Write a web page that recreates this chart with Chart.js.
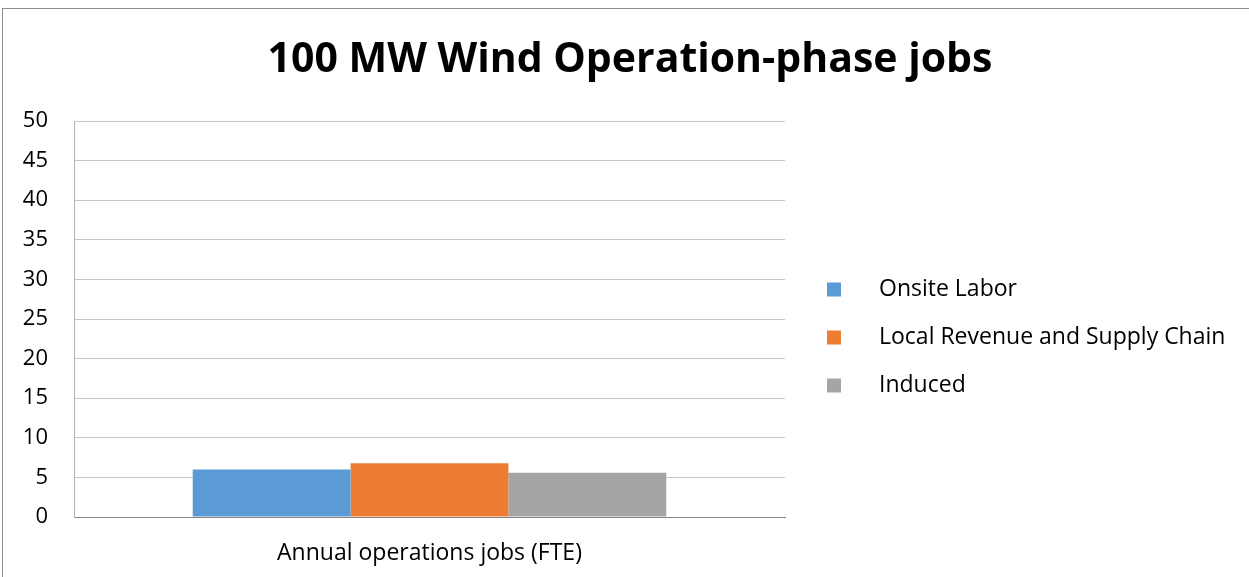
<!DOCTYPE html>
<html>
<head>
<meta charset="utf-8">
<script src="https://cdn.jsdelivr.net/npm/chart.js@4.4.1/dist/chart.umd.min.js"></script>
<style>
  html, body { margin: 0; padding: 0; background: #fff; }
  #caja { position: relative; width: 1249px; height: 577px; }
</style>
</head>
<body>
<div id="caja"><canvas id="graficoEmpleos" width="1249" height="577"></canvas></div>
<script>
/* DATOS */
const titulo = "100 MW Wind Operation-phase jobs";
const categorias = ["Annual operations jobs (FTE)"];
const series = ["Onsite Labor", "Local Revenue and Supply Chain", "Induced"];
const valoresOnsite = [6.0];
const valoresLocal = [6.8];
const valoresInduced = [5.6];
const colores = ["#5b9bd5", "#ed7d31", "#a5a5a5"];

const FUENTE = "'Open Sans', sans-serif";

/* Marco gris y título centrado sobre todo el lienzo */
const marco = {
  id: "marco",
  beforeDraw(chart) {
    const ctx = chart.ctx;
    ctx.save();
    ctx.strokeStyle = "#8c8c8c";
    ctx.lineWidth = 1;
    ctx.strokeRect(2.5, 8.5, 1400, 700);
    ctx.fillStyle = "#000";
    ctx.font = "bold 41px " + FUENTE;
    ctx.textAlign = "center";
    ctx.textBaseline = "alphabetic";
    ctx.fillText(titulo, 630, 72);
    ctx.restore();
  }
};

/* Leyenda a la derecha, dibujada a mano */
const leyendaDerecha = {
  id: "leyendaDerecha",
  afterDraw(chart) {
    const ctx = chart.ctx;
    ctx.save();
    ctx.font = "23px " + FUENTE;
    ctx.textBaseline = "middle";
    chart.data.datasets.forEach((ds, i) => {
      const y = 289.5 + i * 48;
      ctx.fillStyle = ds.backgroundColor;
      ctx.fillRect(827, y - 7, 14, 14);
      ctx.fillStyle = "#000";
      ctx.fillText(ds.label, 879, y);
    });
    ctx.restore();
  }
};

const datos = [valoresOnsite, valoresLocal, valoresInduced];

new Chart(document.getElementById("graficoEmpleos"), {
  type: "bar",
  data: {
    labels: categorias,
    datasets: series.map((s, i) => ({
      label: s,
      data: datos[i],
      backgroundColor: colores[i],
      borderWidth: 0,
      barPercentage: 1,
      categoryPercentage: 0.666
    }))
  },
  options: {
    responsive: false,
    animation: false,
    layout: { padding: { left: 2, right: 464, top: 121, bottom: 0 } },
    plugins: {
      legend: { display: false },
      tooltip: { enabled: false },
      title: { display: false }
    },
    scales: {
      x: {
        grid: { display: false, drawTicks: false },
        border: { color: "#868686" },
        ticks: { color: "#000", font: { family: FUENTE, size: 23 }, padding: 23 },
        afterFit(scale) { scale.height = 60; }
      },
      y: {
        min: 0,
        max: 50,
        ticks: { stepSize: 5, color: "#000", font: { family: FUENTE, size: 22 }, padding: 26 },
        grid: { color: "#c6c6c6", drawTicks: false },
        border: { color: "#b0b0b0" },
        afterFit(scale) { scale.width = 72; }
      }
    }
  },
  plugins: [marco, leyendaDerecha]
});
</script>
</body>
</html>
